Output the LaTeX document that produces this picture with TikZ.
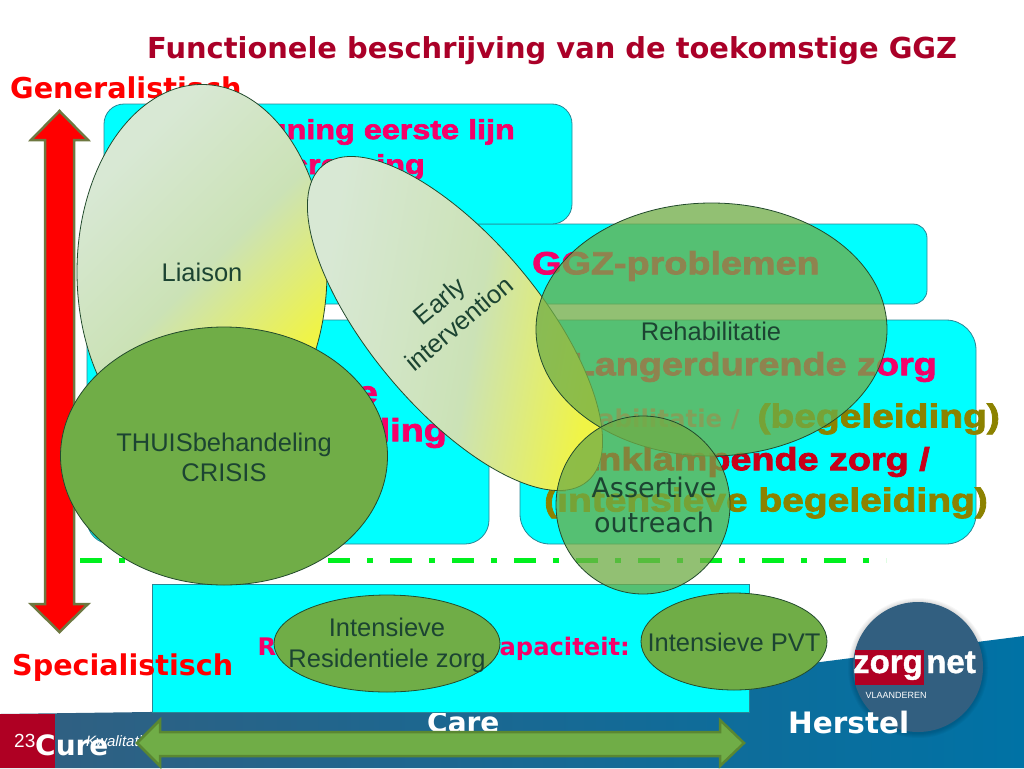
\documentclass[tikz,border=0pt]{standalone}
\usepackage{fontspec}
\usetikzlibrary{shapes.geometric}
\setmainfont{Liberation Sans}
\newfontfamily\heavyfont[FakeBold=2.5,FakeStretch=1.18]{Liberation Sans Bold}
\newfontfamily\logofont[FakeBold=1.2]{Liberation Sans Bold}
\newfontfamily\handfont{DejaVu Sans}
\newfontfamily\handbold{DejaVu Sans Bold}
\definecolor{boxcyan}{RGB}{0,255,255}
\definecolor{boxline}{RGB}{40,135,150}
\definecolor{leafgreen}{RGB}{112,173,71}
\definecolor{leafline}{RGB}{35,75,45}
\definecolor{leaftext}{RGB}{28,68,50}
\definecolor{pinktext}{RGB}{245,0,105}
\definecolor{redtext}{RGB}{200,0,25}
\definecolor{olivetext}{RGB}{140,130,0}
\definecolor{mauvetext}{RGB}{190,120,150}
\definecolor{titlered}{RGB}{170,0,40}
\definecolor{palegreen}{RGB}{216,232,212}
\definecolor{midgreen}{RGB}{203,226,182}
\definecolor{paleyellow}{RGB}{240,244,70}
\definecolor{logoblue}{RGB}{50,95,128}
\definecolor{footblue}{RGB}{0,114,165}
\definecolor{logored}{RGB}{175,0,35}
\definecolor{dashgreen}{RGB}{0,240,30}
\pgfdeclarehorizontalshading{liaisonfade}{100bp}{color(0bp)=(palegreen); color(28bp)=(palegreen); color(50bp)=(midgreen); color(70bp)=(paleyellow); color(100bp)=(paleyellow)}
\pgfdeclarehorizontalshading{earlyfade}{100bp}{color(0bp)=(palegreen); color(30bp)=(palegreen); color(53bp)=(midgreen); color(71bp)=(paleyellow); color(100bp)=(paleyellow)}
\tikzset{
  cyanbox/.style={draw=boxline,line width=0.8pt,fill=boxcyan},
  leaf/.style={ellipse,draw=leafline,line width=0.8pt,fill=leafgreen,inner sep=0pt},
  seeleaf/.style={leaf,fill opacity=0.76},
  leafname/.style={text=leaftext,inner sep=0pt,align=center,font=\fontsize{25.5}{30}\selectfont},
  heavy/.style={inner sep=0pt,font=\heavyfont\fontsize{#1}{#1}\selectfont},
  hand/.style={inner sep=0pt,font=\handbold\fontsize{#1}{#1}\selectfont},
}
\begin{document}
\begin{tikzpicture}[x=1pt,y=-1pt]
        \useasboundingbox (0,0) rectangle (1024,768);
        \fill[white] (0,0) rectangle (1024,768);

        % footer
        \shade[left color=logoblue,right color=footblue] (0,714)--(150,712)--(750,671)--(1024,636)--(1024,768)--(0,768)--cycle;
        \fill[logored] (0,714) rectangle (55,768);
        \node[anchor=west,text=white,inner sep=0pt,font=\fontsize{19}{19}\selectfont] (pagenr) at (14,741) {23};
        \node[anchor=west,text=white,inner sep=0pt,font=\rmfamily\itshape\fontsize{15}{15}\selectfont] (quality) at (86,741) {Kwalitatief};

        % logo
        \foreach \r in {66,67,68,69,70}
          \fill[black,opacity=0.03] (918,668) circle (\r);
        \fill[logoblue] (918,667) circle (65);
        \fill[logored] (855,650) rectangle (924,685);
        \node[anchor=base east,text=white,inner sep=0pt,font=\logofont\fontsize{33}{33}\selectfont] (zorg) at (923,673) {zorg};
        \node[anchor=base west,text=white,inner sep=0pt,font=\logofont\fontsize{33}{33}\selectfont] (net) at (926,673) {net};
        \node[text=white,inner sep=0pt,font=\fontsize{9}{9}\selectfont] (vlaanderen) at (896,695) {VLAANDEREN};

        % labels
        \node[anchor=west,text=titlered,hand=28.9] (title) at (147,51) {Functionele beschrijving van de toekomstige GGZ};
        \node[anchor=west,text=red,hand=28.7] (general) at (10,88) {Generalistisch};
        \node[anchor=west,text=white,hand=28] (care) at (427,722) {Care};

        % dash-dot border
        \draw[line width=5pt,dashgreen,dash pattern=on 22pt off 17pt on 6pt off 17pt] (80,560)--(886,560);

        % boxes
        \draw[cyanbox,rounded corners=14pt] (300,224) rectangle (927,304);
        \draw[cyanbox,rounded corners=20pt] (104,104) rectangle (572,224);
        \draw[cyanbox,rounded corners=24pt] (87,320) rectangle (489,544);
        \draw[cyanbox,rounded corners=30pt] (520,320) rectangle (976,544);
        \draw[cyanbox] (152,584) rectangle (749,712);

        % box texts
        \node[anchor=east,text=pinktext,heavy=27.4] (support) at (515,132) {Ondersteuning eerste lijn};
        \node[anchor=east,text=pinktext,heavy=27.4] (screening) at (425,167) {screening};
        \node[anchor=west,text=pinktext,heavy=32] (problems) at (532,266) {GGZ-problemen};
        \node[anchor=east,text=pinktext,heavy=32] (ambulant) at (378,392) {Ambulante};
        \node[anchor=east,text=pinktext,heavy=32] (treatment) at (447,433) {behandeling};
        \node[anchor=east,text=pinktext,heavy=32] (longer) at (937,367) {Langerdurende zorg};
        \node[anchor=east,text=mauvetext,hand=24.5] (rehabtext) at (740,419) {Rehabilitatie /};
        \node[anchor=east,text=olivetext,heavy=33] (guidance) at (1000,419) {(begeleiding)};
        \node[anchor=east,text=redtext,heavy=32] (outreachcare) at (930,462) {Aanklampende zorg /};
        \node[anchor=east,text=olivetext,heavy=33] (intensive) at (988,503) {(intensieve begeleiding)};
        \node[anchor=east,text=pinktext,hand=24.2] (capacity) at (630,649) {Residentiële\hspace{58pt}capaciteit:};
        \node[anchor=west,text=red,hand=28.6] (special) at (12,668) {Specialistisch};

        % arrows
        \draw[fill=red,draw={rgb,255:red,110;green,120;blue,65},line width=2.5pt] (59.5,111)--(88,140)--(74,140)--(74,604)--(88,604)--(59.5,632)--(31,604)--(45,604)--(45,140)--(31,140)--cycle;
        \draw[fill=leafgreen,draw={rgb,255:red,90;green,135;blue,50},line width=2.5pt] (137,743)--(160,720)--(160,732)--(720,732)--(720,720)--(744,743)--(720,766)--(720,756)--(160,756)--(160,766)--cycle;
        \node[anchor=west,text=white,hand=28] (cure) at (35,745) {Cure};
        \node[anchor=west,text=white,hand=29.5] (recovery) at (788,722) {Herstel};

        % ellipses
        \shade[shading=liaisonfade,shading angle=-45,draw=leafline,line width=0.8pt] (202,272) ellipse [x radius=125pt,y radius=187.5pt];
        \node[leafname] (liaison) at (202,272) {Liaison};
        \node[leaf,minimum width=327pt,minimum height=258pt] (crisis) at (224,456) {};
        \node[leafname] (crisistext) at (224,457) {THUISbehandeling\\CRISIS};
        \shade[shading=earlyfade,shading angle=-10,draw=leafline,line width=0.8pt] (455,323.5) ellipse [x radius=206pt,y radius=85pt,rotate=-50];
        \node[leafname,rotate=40] (early) at (449,312) {Early\\intervention};
        \node[seeleaf,minimum width=351pt,minimum height=253pt] (rehab) at (711.5,329.5) {};
        \node[leafname] (rehabname) at (711,331) {Rehabilitatie};
        \node[seeleaf,minimum width=174pt,minimum height=178pt] (assertive) at (643,505) {};
        \node[leafname,font=\handfont\fontsize{27}{35}\selectfont] (assertivetext) at (654,505) {Assertive\\outreach};
        \node[leaf,minimum width=226pt,minimum height=97pt] (residential) at (387,643.5) {};
        \node[leafname,font=\fontsize{25.5}{31}\selectfont] (residentialtext) at (387,645) {Intensieve\\Residentiele zorg};
        \node[leaf,minimum width=186pt,minimum height=97pt] (pvt) at (734,641.5) {};
        \node[leafname] (pvttext) at (734,642) {Intensieve PVT};
\end{tikzpicture}
\end{document}
